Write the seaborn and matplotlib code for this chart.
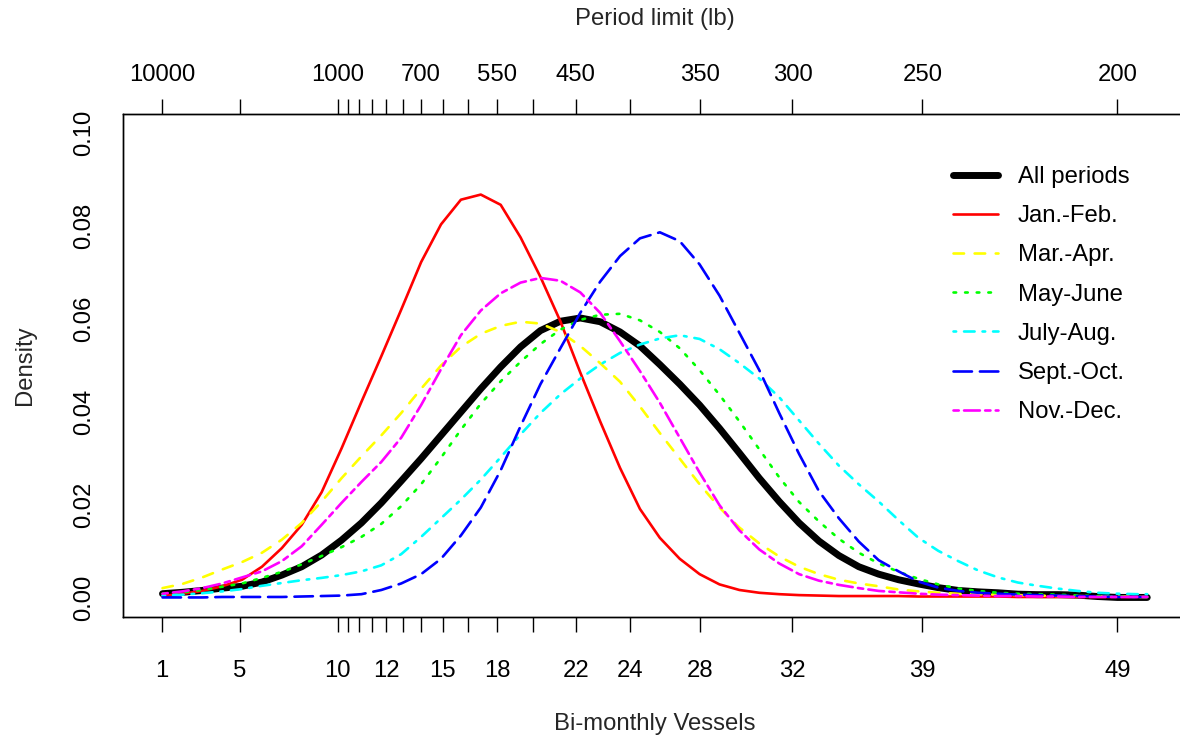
import matplotlib
matplotlib.use("Agg")
import matplotlib.pyplot as plt
import numpy as np
import pandas as pd
import seaborn as sns

# ---------------- data ----------------
vessels = [1, 2, 3, 4, 5, 6, 7, 8, 9, 10,
           11, 12, 13, 14, 15, 16, 17, 18, 19, 20,
           21, 22, 23, 24, 25, 26, 27, 28, 29, 30,
           31, 32, 33, 34, 35, 36, 37, 38, 39, 40,
           41, 42, 43, 44, 45, 46, 47, 48, 49, 50, 50.5]

all_periods = [0.0010, 0.0013, 0.0017, 0.0022, 0.0026, 0.0035, 0.0050, 0.0068, 0.0093, 0.0125,
               0.0162, 0.0205, 0.0252, 0.0300, 0.0350, 0.0400, 0.0450, 0.0497, 0.0540, 0.0575,
               0.0595, 0.0602, 0.0594, 0.0572, 0.0542, 0.0502, 0.0460, 0.0415, 0.0365, 0.0312,
               0.0258, 0.0208, 0.0162, 0.0123, 0.0092, 0.0068, 0.0052, 0.0040, 0.0031, 0.0023,
               0.0017, 0.0014, 0.0012, 0.0009, 0.0008, 0.0008, 0.0007, 0.0004, 0.0002, 0.0002, 0.0002]

jan_feb = [0.0005, 0.0010, 0.0016, 0.0026, 0.0040, 0.0068, 0.0108, 0.0158, 0.0228, 0.0322,
           0.0422, 0.0520, 0.0620, 0.0722, 0.0803, 0.0856, 0.0867, 0.0845, 0.0775, 0.0690,
           0.0595, 0.0485, 0.0380, 0.0280, 0.0192, 0.0130, 0.0085, 0.0052, 0.0030, 0.0018,
           0.0012, 0.0009, 0.0007, 0.0006, 0.0005, 0.0005, 0.0005, 0.0005, 0.0004, 0.0004,
           0.0004, 0.0004, 0.0004, 0.0003, 0.0003, 0.0003, 0.0003, 0.0003, 0.0003, 0.0003, 0.0003]

mar_apr = [0.0022, 0.0031, 0.0045, 0.0062, 0.0078, 0.0098, 0.0126, 0.0162, 0.0208, 0.0258,
           0.0305, 0.0350, 0.0398, 0.0450, 0.0500, 0.0540, 0.0568, 0.0585, 0.0594, 0.0590,
           0.0572, 0.0542, 0.0505, 0.0465, 0.0412, 0.0355, 0.0300, 0.0245, 0.0195, 0.0152,
           0.0118, 0.0090, 0.0068, 0.0052, 0.0040, 0.0032, 0.0026, 0.0019, 0.0015, 0.0012,
           0.0010, 0.0009, 0.0008, 0.0007, 0.0006, 0.0005, 0.0005, 0.0004, 0.0004, 0.0003, 0.0003]

may_june = [0.0010, 0.0013, 0.0018, 0.0025, 0.0032, 0.0044, 0.0057, 0.0073, 0.0091, 0.0110,
            0.0132, 0.0160, 0.0198, 0.0245, 0.0302, 0.0362, 0.0418, 0.0466, 0.0508, 0.0546,
            0.0577, 0.0598, 0.0609, 0.0611, 0.0597, 0.0572, 0.0537, 0.0490, 0.0437, 0.0380,
            0.0320, 0.0260, 0.0207, 0.0165, 0.0128, 0.0098, 0.0075, 0.0057, 0.0042, 0.0030,
            0.0021, 0.0016, 0.0012, 0.0010, 0.0009, 0.0008, 0.0006, 0.0005, 0.0004, 0.0003, 0.0003]

july_aug = [0.0006, 0.0008, 0.0011, 0.0015, 0.0020, 0.0027, 0.0033, 0.0039, 0.0044, 0.0050,
            0.0058, 0.0071, 0.0095, 0.0132, 0.0172, 0.0212, 0.0255, 0.0303, 0.0352, 0.0398,
            0.0438, 0.0472, 0.0502, 0.0527, 0.0545, 0.0558, 0.0565, 0.0557, 0.0535, 0.0505,
            0.0472, 0.0432, 0.0382, 0.0332, 0.0285, 0.0245, 0.0208, 0.0168, 0.0130, 0.0102,
            0.0080, 0.0060, 0.0045, 0.0034, 0.0027, 0.0021, 0.0016, 0.0012, 0.0010, 0.0009, 0.0009]

sept_oct = [0.0002, 0.0002, 0.0002, 0.0003, 0.0003, 0.0003, 0.0003, 0.0004, 0.0005, 0.0006,
            0.0009, 0.0018, 0.0032, 0.0052, 0.0085, 0.0135, 0.0195, 0.0275, 0.0370, 0.0460,
            0.0537, 0.0613, 0.0680, 0.0735, 0.0773, 0.0786, 0.0767, 0.0717, 0.0650, 0.0570,
            0.0490, 0.0398, 0.0310, 0.0230, 0.0172, 0.0122, 0.0082, 0.0058, 0.0036, 0.0023,
            0.0016, 0.0012, 0.0010, 0.0008, 0.0007, 0.0006, 0.0005, 0.0004, 0.0003, 0.0003, 0.0003]

nov_dec = [0.0010, 0.0015, 0.0022, 0.0032, 0.0045, 0.0058, 0.0080, 0.0112, 0.0158, 0.0205,
           0.0250, 0.0293, 0.0345, 0.0415, 0.0492, 0.0565, 0.0618, 0.0655, 0.0678, 0.0688,
           0.0682, 0.0657, 0.0613, 0.0552, 0.0488, 0.0420, 0.0345, 0.0270, 0.0200, 0.0146,
           0.0105, 0.0075, 0.0052, 0.0038, 0.0029, 0.0022, 0.0016, 0.0013, 0.0010, 0.0008,
           0.0007, 0.0006, 0.0005, 0.0005, 0.0004, 0.0004, 0.0003, 0.0003, 0.0003, 0.0003, 0.0003]

period_names = ["All periods", "Jan.-Feb.", "Mar.-Apr.", "May-June",
                "July-Aug.", "Sept.-Oct.", "Nov.-Dec."]
series = [all_periods, jan_feb, mar_apr, may_june, july_aug, sept_oct, nov_dec]

# axis tick values: period limit (lb) and corresponding bi-monthly vessel labels
period_limits = [10000, 2000, 1000, 950, 900, 850, 800, 750, 700, 650,
                 600, 550, 500, 450, 400, 350, 300, 250, 200]
top_labels = ["10000", "", "1000", "", "", "", "", "", "700", "",
              "", "550", "", "450", "", "350", "300", "250", "200"]
bottom_labels = ["1", "5", "10", "", "", "", "12", "", "", "15",
                 "", "18", "", "22", "24", "28", "32", "39", "49"]
vessel_lb_constant = 9800.0   # vessels ~ constant / period limit

y_ticks = [0.00, 0.02, 0.04, 0.06, 0.08, 0.10]

# ---------------- styling ----------------
colors = {"All periods": "#000000", "Jan.-Feb.": "#FF0000", "Mar.-Apr.": "#FFFF00",
          "May-June": "#00FF00", "July-Aug.": "#00FFFF", "Sept.-Oct.": "#0000FF",
          "Nov.-Dec.": "#FF00FF"}
dashes = {"All periods": "", "Jan.-Feb.": "", "Mar.-Apr.": (4, 4),
          "May-June": (1, 3.4), "July-Aug.": (1, 3, 4, 3), "Sept.-Oct.": (7, 3),
          "Nov.-Dec.": (2, 2, 6, 2)}
widths = {"All periods": 5.0, "Jan.-Feb.": 1.9, "Mar.-Apr.": 1.9, "May-June": 1.9,
          "July-Aug.": 1.9, "Sept.-Oct.": 1.9, "Nov.-Dec.": 1.9}

df = pd.concat([pd.DataFrame({"vessels": vessels, "density": s, "period": name})
                for name, s in zip(period_names, series)], ignore_index=True)

sns.set_style("white")
plt.rcParams["font.family"] = ["Liberation Sans", "DejaVu Sans"]
plt.rcParams["font.size"] = 17.2
plt.rcParams["lines.solid_capstyle"] = "round"
plt.rcParams["lines.dash_capstyle"] = "round"
plt.rcParams["axes.edgecolor"] = "black"
plt.rcParams["text.color"] = "black"
plt.rcParams["xtick.color"] = "black"
plt.rcParams["ytick.color"] = "black"

fig = plt.figure(figsize=(11.8, 7.4), dpi=100)
ax = fig.add_axes([123 / 1180, 1 - 617 / 740, 1064 / 1180, 503 / 740])

sns.lineplot(data=df, x="vessels", y="density", hue="period", style="period",
             size="period", hue_order=period_names, style_order=period_names,
             size_order=period_names, palette=colors, dashes=dashes, sizes=widths,
             estimator=None, sort=False, legend=False, ax=ax)

xlim = (-0.986, 52.5)
ax.set_xlim(*xlim)
ax.set_ylim(-0.004, 0.104)

tick_pos = [vessel_lb_constant / L for L in period_limits]
ax.set_xticks(tick_pos)
ax.set_xticklabels(bottom_labels)
ax.set_yticks(y_ticks)
ax.set_yticklabels([f"{t:.2f}" for t in y_ticks], rotation=90, va="center")

for sp in ax.spines.values():
    sp.set_linewidth(1.0)
    sp.set_color("black")

ax.tick_params(axis="x", direction="out", length=11, width=1.0, pad=20, labelsize=17.2)
ax.tick_params(axis="y", direction="out", length=11, width=1.0, pad=9, labelsize=17.2)

ax.set_xlabel("Bi-monthly Vessels", fontsize=17.2)
ax.set_ylabel("Density", fontsize=17.2)
ax.xaxis.set_label_coords(0.5, (617 - 724) / 503)
ax.xaxis.label.set_va("center")
ax.yaxis.set_label_coords((25 - 123) / 1064, 0.5)
ax.yaxis.label.set_va("center")

ax_top = ax.twiny()
ax_top.set_xlim(*xlim)
ax_top.set_xticks(tick_pos)
ax_top.set_xticklabels(top_labels)
ax_top.tick_params(axis="x", direction="out", length=11, width=1.0, pad=9, labelsize=17.2)
for sp in ax_top.spines.values():
    sp.set_linewidth(1.0)
    sp.set_color("black")
ax_top.set_xlabel("Period limit (lb)", fontsize=17.2)
ax_top.xaxis.set_label_coords(0.5, (617 - 19) / 503)
ax_top.xaxis.label.set_va("center")

handles = ax.get_lines()[:len(period_names)]
leg = ax.legend(handles, period_names, loc="upper left",
                bbox_to_anchor=(953 / 1180, 1 - 166 / 740),
                bbox_transform=fig.transFigure, frameon=False,
                handlelength=1.9, handletextpad=0.8, labelspacing=0.72,
                borderpad=0, borderaxespad=0, prop={"size": 17.2})

fig.savefig("out.png", dpi=100)
